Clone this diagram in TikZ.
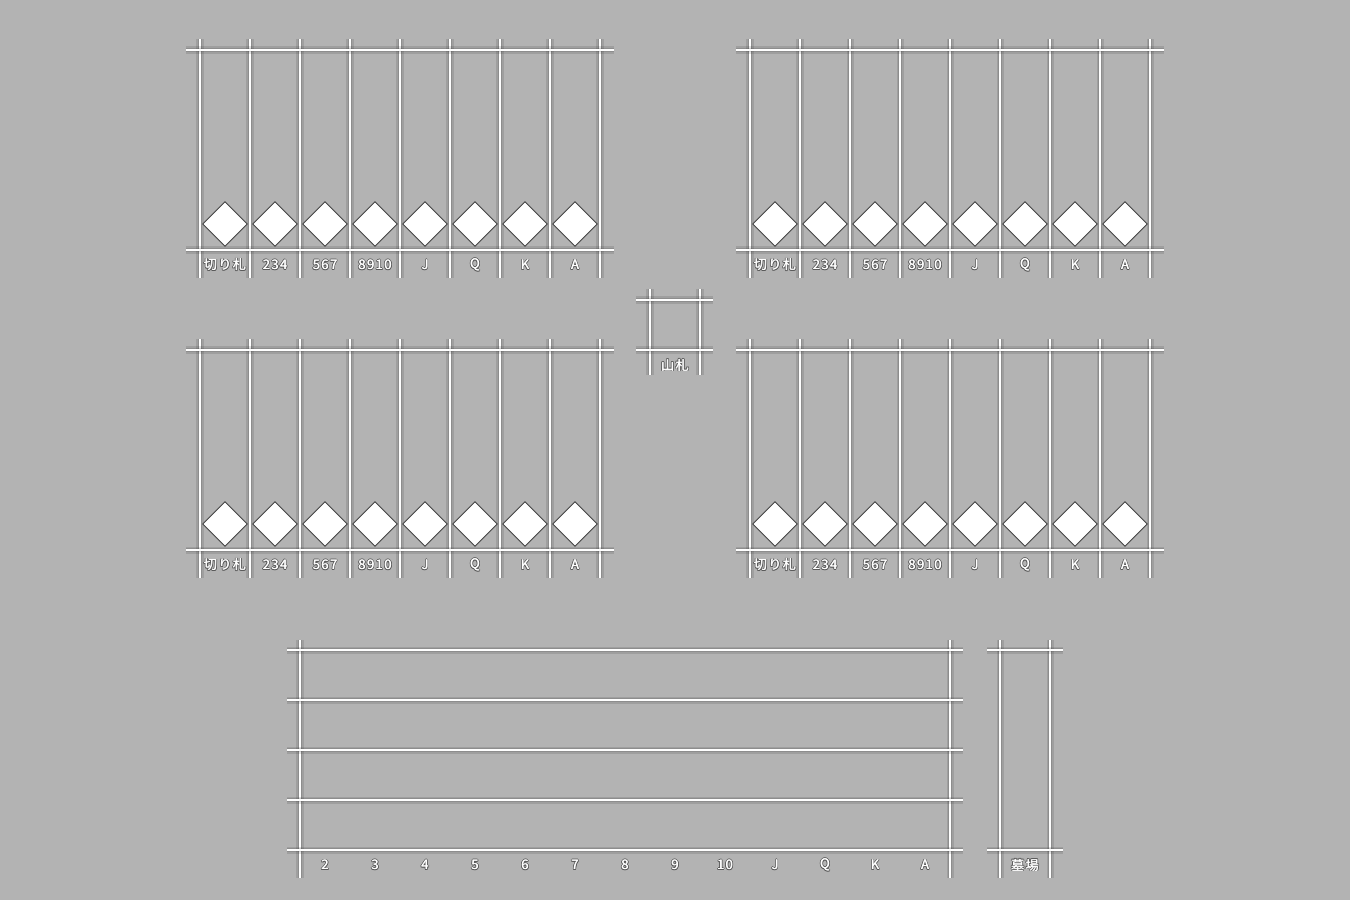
\documentclass[tikz,border=0pt]{standalone}
\usepackage{fontspec}
\setmainfont{Noto Sans CJK JP}
\usepackage{tikz}
\usetikzlibrary{calc}
\usetikzlibrary{shapes.geometric}
\definecolor{felt}{RGB}{179,179,179}

% one rail: soft shadow, then the double line
\newcommand\rail[2]{%
  \draw[halo] #1 -- #2;
  \draw[halo, line width=2.4pt] #1 -- #2;
  \draw[railline] #1 -- #2;}

% a label: dark rim underneath, white text on top
\newcommand\tagat[3]{%
  \foreach \rx/\ry [count=\n] in {0.55/0,-0.55/0,0/0.45,0/-0.5,0.4/0.35,-0.4/0.35,0.4/-0.4,-0.4/-0.4}
    \node[tag, text=black!65] (#1-rim-\n) at ($#2+(\rx pt,\ry pt)$) {#3};
  \node[tag, text=white] (#1-fat) at ($#2+(0.18pt,0)$) {#3};
  \node[tag, text=white] (#1) at ($#2+(-0.12pt,0)$) {#3};}

\begin{document}
\begin{tikzpicture}[x=1cm,y=-1cm,
    halo/.style={draw=black, line width=4pt, opacity=0.11},
    railline/.style={draw=black!90, line width=0.5pt, double=white, double distance=0.65pt},
    slot/.style={diamond, draw=black!75, line width=0.5pt, fill=white,
                 minimum size=0.9cm, inner sep=0pt},
    tag/.style={font=\fontsize{7.5}{8}\selectfont\addfontfeature{LetterSpace=10}, inner sep=0pt}]

  % table
  \fill[felt] (0,0) rectangle (27,18);
  \useasboundingbox (0,0) rectangle (27,18);

  % four hands: 8 columns each
  \foreach \bx/\by/\hn in {4/1/a, 15/1/b, 4/7/c, 15/7/d} {
    \foreach \i in {0,...,8}
      \rail{(\bx+\i,\by-0.22)}{(\bx+\i,\by+4.56)};
    \rail{(\bx-0.28,\by)}{(\bx+8.28,\by)};
    \rail{(\bx-0.28,\by+4)}{(\bx+8.28,\by+4)};
    \foreach \t [count=\i from 0] in {切り札,234,567,8910,J,Q,K,A} {
      \node[slot] (\hn-slot-\i) at (\bx+\i+0.5,\by+3.48) {};
      \tagat{\hn-tag-\i}{(\bx+\i+0.5,\by+4.3)}{\t}
    }
  }

  % stock pile
  \rail{(13,5.78)}{(13,7.5)};
  \rail{(14,5.78)}{(14,7.5)};
  \rail{(12.72,6)}{(14.26,6)};
  \rail{(12.72,7)}{(14.26,7)};
  \tagat{stock}{(13.5,7.3)}{山札}

  % played cards
  \rail{(6,12.8)}{(6,17.56)};
  \rail{(19,12.8)}{(19,17.56)};
  \foreach \r in {13,...,17}
    \rail{(5.74,\r)}{(19.26,\r)};
  \foreach \t [count=\k from 0] in {2,3,4,5,6,7,8,9,10,J,Q,K,A} {
    \tagat{rank-\k}{(6.5+\k,17.3)}{\t}
  }

  % discard
  \rail{(20,12.8)}{(20,17.56)};
  \rail{(21,12.8)}{(21,17.56)};
  \rail{(19.74,13)}{(21.26,13)};
  \rail{(19.74,17)}{(21.26,17)};
  \tagat{grave}{(20.5,17.3)}{墓場}

\end{tikzpicture}
\end{document}
